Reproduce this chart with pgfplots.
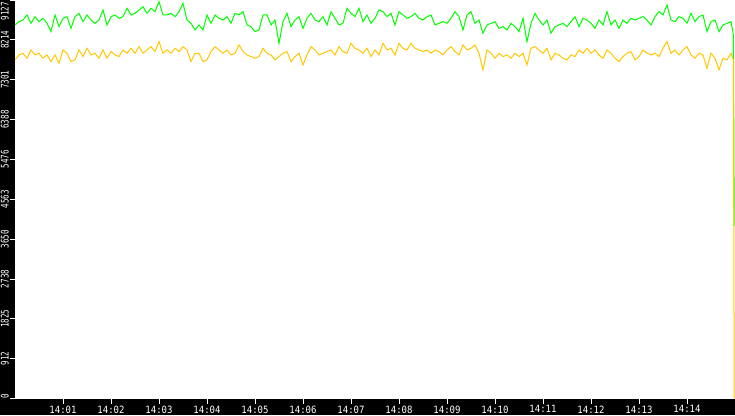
\documentclass[border=0pt]{standalone}
\usepackage{fontspec}
\usepackage{pgfplots}
\usepackage{pgfplotstable}
\pgfplotsset{compat=1.18}
\newfontfamily\xlab[FakeStretch=0.9]{DejaVu Sans Mono}
\newfontfamily\ylab[FakeStretch=0.72]{DejaVu Sans Mono}
\definecolor{lgreen}{RGB}{0,255,0}
\definecolor{lgold}{RGB}{255,200,0}

% time in seconds after 14:00, value
\pgfplotstableread{
t v
0 8555
5 8631
10 8669
15 8784
20 8593
25 8746
30 8631
35 8708
40 8593
45 8403
50 8784
55 8517
60 8708
65 8746
70 8479
75 8746
80 8822
85 8631
90 8784
95 8669
100 8593
105 8669
110 8898
115 8555
120 8746
125 8784
130 8708
135 8746
140 8936
145 8784
150 8822
155 8898
160 8974
165 8822
170 8936
175 8860
180 9089
185 8784
190 8784
195 8822
200 8746
205 8860
210 9051
215 8669
220 8593
225 8441
230 8555
235 8441
240 8784
245 8593
250 8784
255 8708
260 8669
265 8746
270 8593
275 8822
280 8784
285 8860
290 8555
295 8517
300 8403
305 8441
310 8784
315 8784
320 8555
325 8669
330 8136
335 8631
340 8822
345 8517
350 8669
355 8746
360 8479
365 8708
370 8822
375 8669
380 8631
385 8746
390 8555
395 8860
400 8708
405 8555
410 8593
415 8936
420 8822
425 8746
430 8936
435 8631
440 8784
445 8593
450 8708
455 8898
460 8860
465 8746
470 8822
475 8555
480 8860
485 8784
490 8708
495 8746
500 8822
505 8708
510 8669
515 8746
520 8784
525 8555
530 8593
535 8631
540 8593
545 8708
550 8860
555 8746
560 8441
565 8784
570 8860
575 8593
580 8669
585 8365
590 8555
595 8593
600 8631
605 8479
610 8517
615 8441
620 8593
625 8517
630 8403
635 8708
640 8174
645 8593
650 8822
655 8669
660 8555
665 8669
670 8365
675 8517
680 8555
685 8593
690 8517
695 8631
700 8746
705 8517
710 8708
715 8669
720 8593
725 8479
730 8669
735 8555
740 8860
745 8555
750 8669
755 8479
760 8669
765 8593
770 8708
775 8669
780 8708
785 8746
790 8669
795 8555
800 8746
805 8860
810 8784
815 9013
820 8669
825 8631
830 8746
835 8708
840 8593
845 8822
850 8631
855 8746
860 8784
865 8403
870 8631
875 8669
880 8403
885 8555
890 8593
895 8631
898 8326
899 3950
}\greendata

\pgfplotstableread{
t v
0 7755
5 7869
10 7907
15 7793
20 7983
25 7869
30 7907
35 7793
40 7869
45 7716
50 7869
55 7678
60 7983
65 7907
70 7716
75 7755
80 7983
85 7831
90 8021
95 7869
100 7907
105 7793
110 7983
115 7793
120 7945
125 7869
130 7831
135 7983
140 7907
145 8021
150 7907
155 8060
160 7907
165 7983
170 8060
175 7945
180 8174
185 7907
190 7983
195 7907
200 8021
205 7945
210 8060
215 7983
220 7716
225 7907
230 7907
235 7716
240 7755
245 7945
250 8060
255 7983
260 7907
265 7983
270 7869
275 7907
280 8098
285 7945
290 7869
295 7831
300 7793
305 7831
310 8021
315 7907
320 7869
325 7755
330 7831
335 7907
340 7945
345 7716
350 7831
355 7907
360 7640
365 7869
370 8060
375 7983
380 7869
385 7907
390 7945
395 7983
400 7869
405 8060
410 7945
415 7907
420 8136
425 8021
430 7983
435 7907
440 8021
445 7831
450 7983
455 7869
460 8136
465 7983
470 8021
475 7869
480 8136
485 8021
490 7983
495 8136
500 8021
505 7983
510 7945
515 7983
520 7907
525 7983
530 7945
535 7869
540 7983
545 8060
550 7945
555 7869
560 8098
565 7983
570 8021
575 8098
580 7907
585 7526
590 7983
595 7907
600 7793
605 7907
610 7831
615 7869
620 7793
625 7907
630 7831
635 7907
640 7640
645 8021
650 8060
655 7983
660 7907
665 8021
670 7755
675 7907
680 7869
685 7793
690 7755
695 7869
700 7831
705 7983
710 7907
715 8021
720 7907
725 7983
730 7869
735 7793
740 7983
745 7907
750 7793
755 7716
760 7831
765 7907
770 7945
775 7755
780 7831
785 7983
790 7907
795 7869
800 7907
805 7831
810 8021
815 8174
820 7907
825 7983
830 7869
835 7983
840 8060
845 7869
850 7793
855 7907
860 7869
865 7564
870 7907
875 7793
880 7526
885 7793
890 7755
895 7907
898 7755
899 0
}\golddata

\begin{document}
\begin{tikzpicture}
\fill[black] (0,0) rectangle (735pt,415pt);
\begin{axis}[
  at={(15pt,16.5pt)}, anchor=south west,
  scale only axis, width=720pt, height=398.5pt,
  xmin=0, xmax=900, ymin=0, ymax=9127,
  axis background/.style={fill=white},
  axis line style={draw=none},
  tick align=outside, major tick length=5pt,
  xtick pos=left, ytick pos=left,
  tick style={white, line width=0.8pt},
  xtick={60,120,180,240,300,360,420,480,540,600,660,720,780,840},
  xticklabels={\mbox{14:01},\mbox{14:02},\mbox{14:03},\mbox{14:04},\mbox{14:05},\mbox{14:06},\mbox{14:07},\mbox{14:08},\mbox{14:09},\mbox{14:10},\mbox{14:11},\mbox{14:12},\mbox{14:13},\mbox{14:14}},
  ytick={0,912.7,1825.4,2738.1,3650.8,4563.5,5476.2,6388.9,7301.6,8214.3,9127},
  yticklabels={\makebox[0pt][l]{0},\mbox{912},\mbox{1825},\mbox{2738},\mbox{3650},\mbox{4563},\mbox{5476},\mbox{6388},\mbox{7301},\mbox{8214},\makebox[0pt][r]{9127\hspace{2pt}}},
  xticklabel style={text=white, font=\xlab\fontsize{10}{10}\selectfont, inner sep=0pt, anchor=north},
  yticklabel style={text=white, font=\ylab\fontsize{10.5}{10.5}\selectfont, inner sep=0pt, rotate=90, anchor=south},
  xticklabel shift=2pt,
  yticklabel shift=1pt,
]
\addplot[lgreen, line width=1pt, mark=none] table[x=t, y=v] {\greendata};
\addplot[lgold, line width=1pt, mark=none] table[x=t, y=v] {\golddata};
\end{axis}
\pgfresetboundingbox
\useasboundingbox (0,0) rectangle (735pt,415pt);
\end{tikzpicture}
\end{document}
